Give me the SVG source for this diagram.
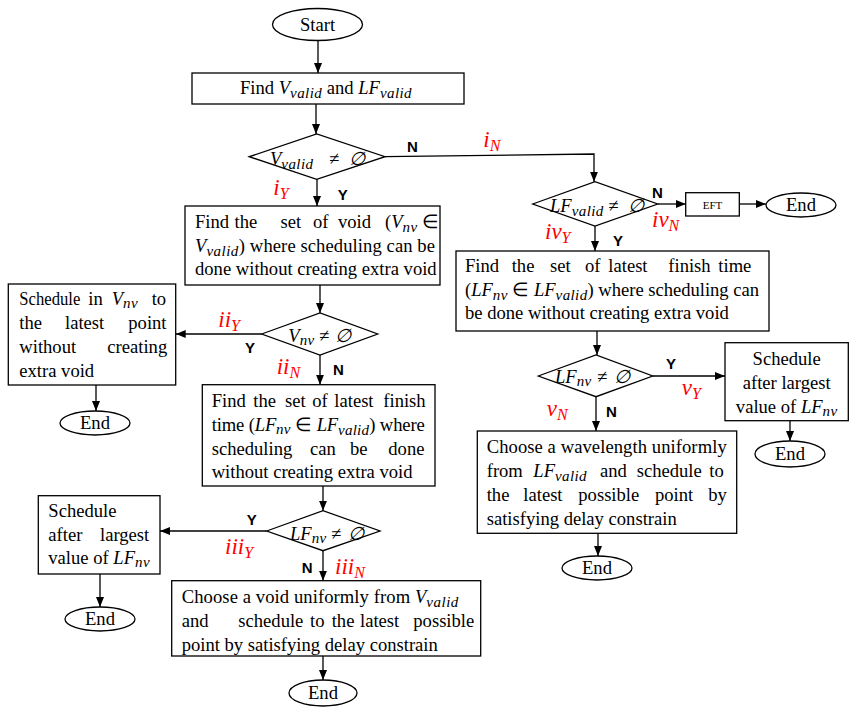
<svg xmlns="http://www.w3.org/2000/svg" width="862" height="716" viewBox="0 0 862 716">
<defs>
<marker id="ah" markerUnits="userSpaceOnUse" markerWidth="10" markerHeight="8" refX="10" refY="4" orient="auto"><path d="M0,0 L10,4 L0,8 z" fill="#000"/></marker>
<style>
.sh{fill:#fff;stroke:#000;stroke-width:1.3}
.c{fill:none;stroke:#000;stroke-width:1.3;marker-end:url(#ah)}
.t{font-family:"Liberation Serif","Times New Roman",serif;font-size:18.6px;fill:#000}
.ce{text-anchor:middle}
.m{font-style:italic}
.s{font-style:italic;font-size:15px;letter-spacing:0.4px}
.lb{font-family:"Liberation Sans",Arial,sans-serif;font-weight:bold;font-size:15px;fill:#000}
.r{font-family:"Liberation Serif","Times New Roman",serif;font-style:italic;font-size:23px;fill:#f00}
.rs{font-size:16px}
.e{font-family:"Liberation Serif","Times New Roman",serif;font-size:11px;fill:#000;text-anchor:middle}
</style>
</defs>
<rect width="862" height="716" fill="#fff"/>

<g id="connectors">
<path class="c" d="M318,40.5 V73"/>
<path class="c" d="M316,104 V134"/>
<path class="c" d="M317,179.3 V206"/>
<path class="c" d="M385,156.7 L594,154 V181.7"/>
<path class="c" d="M657.7,204 H685.7"/>
<path class="c" d="M739.3,204 H766"/>
<path class="c" d="M595,226 V251"/>
<path class="c" d="M320,285 V313"/>
<path class="c" d="M261.7,334 H175.7"/>
<path class="c" d="M96,385 V411"/>
<path class="c" d="M320,355 V384.7"/>
<path class="c" d="M323,486 V510.7"/>
<path class="c" d="M266.7,531 H160"/>
<path class="c" d="M100,574 V607"/>
<path class="c" d="M323,550.7 V580.7"/>
<path class="c" d="M323,656 V680"/>
<path class="c" d="M597,331 V355"/>
<path class="c" d="M652.7,376 H725"/>
<path class="c" d="M596,396.7 V431"/>
<path class="c" d="M790,420.7 V441"/>
<path class="c" d="M598,533.3 V556"/>
</g>

<g id="start">
<ellipse class="sh" cx="317.5" cy="24.5" rx="45" ry="16"/>
<text class="t ce" x="317.5" y="30.5">Start</text>
</g>

<g id="find-valid">
<rect class="sh" x="192" y="73" width="272" height="31"/>
<text class="t" x="240" y="94" textLength="172">Find <tspan class="m">V</tspan><tspan class="s" dy="4">valid</tspan><tspan dy="-4"> and </tspan><tspan class="m">LF</tspan><tspan class="s" dy="4">valid</tspan></text>
</g>

<g id="d-vvalid">
<polygon class="sh" points="249.3,156.7 316.7,134 385,156.7 316.7,179.3"/>
<text class="t m" x="270" y="165">V<tspan class="s" dy="4">valid</tspan><tspan dy="-4" x="329">≠</tspan><tspan x="349">∅</tspan></text>
</g>

<g id="find-void">
<rect class="sh" x="185" y="206" width="255" height="79"/>
<text class="t" y="228"><tspan x="195">Find</tspan><tspan x="234.5">the</tspan><tspan x="280.5">set</tspan><tspan x="313">of</tspan><tspan x="338">void</tspan><tspan x="385">(</tspan><tspan class="m">V</tspan><tspan class="s" dy="4">nv</tspan><tspan dy="-4"> ∈</tspan></text>
<text class="t" x="195" y="252" textLength="240"><tspan class="m">V</tspan><tspan class="s" dy="4">valid</tspan><tspan dy="-4">) where scheduling can be</tspan></text>
<text class="t" x="195" y="275">done without creating extra void</text>
</g>

<g id="d-lfvalid">
<polygon class="sh" points="532.7,204 595,181.7 657.7,204 595,226"/>
<text class="t m" x="550" y="211.7">LF<tspan class="s" dy="4">valid</tspan><tspan dy="-4" x="608.3">≠</tspan><tspan x="627.5">∅</tspan></text>
</g>

<g id="eft">
<rect class="sh" x="685.7" y="192.7" width="53.6" height="23.3"/>
<text class="e" x="712.5" y="208.5">EFT</text>
</g>

<g id="end-eft">
<ellipse class="sh" cx="801" cy="205" rx="35" ry="12"/>
<text class="t ce" x="801" y="211">End</text>
</g>

<g id="find-lf-right">
<rect class="sh" x="456" y="251" width="313" height="80"/>
<text class="t" y="271.7"><tspan x="465">Find</tspan><tspan x="511.7">the</tspan><tspan x="550">set</tspan><tspan x="585">of</tspan><tspan x="608.3">latest</tspan><tspan x="668.3">finish</tspan><tspan x="718.3">time</tspan></text>
<text class="t" x="465" y="296" textLength="294">(<tspan class="m">LF</tspan><tspan class="s" dy="4">nv</tspan><tspan dy="-4"> ∈ </tspan><tspan class="m">LF</tspan><tspan class="s" dy="4">valid</tspan><tspan dy="-4">) where scheduling can</tspan></text>
<text class="t" x="465" y="319">be done without creating extra void</text>
</g>

<g id="d-vnv">
<polygon class="sh" points="261.7,334 320,313 377.7,334 320,355"/>
<text class="t m" x="288.3" y="341.7">V<tspan class="s" dy="3">nv</tspan><tspan dy="-3" x="319">≠</tspan><tspan x="334.5">∅</tspan></text>
</g>

<g id="sched-vnv">
<rect class="sh" x="8.3" y="284" width="167.4" height="101"/>
<text class="t" y="305"><tspan x="19.3" textLength="61" lengthAdjust="spacingAndGlyphs">Schedule</tspan><tspan x="88.3">in</tspan><tspan x="111.7" class="m">V</tspan><tspan class="s" dy="3">nv</tspan><tspan dy="-3" x="151.7">to</tspan></text>
<text class="t" y="328.5"><tspan x="19.3">the</tspan><tspan x="65">latest</tspan><tspan x="128.3">point</tspan></text>
<text class="t" y="352.5"><tspan x="19.3">without</tspan><tspan x="107.3">creating</tspan></text>
<text class="t" x="19.3" y="377">extra void</text>
</g>

<g id="end-1">
<ellipse class="sh" cx="95" cy="423" rx="35" ry="12"/>
<text class="t ce" x="95" y="429">End</text>
</g>

<g id="find-lf-left">
<rect class="sh" x="202.3" y="384.7" width="232.7" height="101.3"/>
<text class="t" y="407"><tspan x="211.7">Find</tspan><tspan x="253.3">the</tspan><tspan x="285">set</tspan><tspan x="312.3">of</tspan><tspan x="334.3">latest</tspan><tspan x="383.3">finish</tspan></text>
<text class="t" x="211.7" y="430.5" textLength="213">time (<tspan class="m">LF</tspan><tspan class="s" dy="3">nv</tspan><tspan dy="-3"> ∈ </tspan><tspan class="m">LF</tspan><tspan class="s" dy="4">valid</tspan><tspan dy="-4">) where</tspan></text>
<text class="t" y="454.5"><tspan x="211.7">scheduling</tspan><tspan x="310">can</tspan><tspan x="350">be</tspan><tspan x="388.3">done</tspan></text>
<text class="t" x="211.7" y="478">without creating extra void</text>
</g>

<g id="d-lfnv-left">
<polygon class="sh" points="266.7,531 323,510.7 380,531 323,550.7"/>
<text class="t m" x="290" y="540">LF<tspan class="s" dy="3">nv</tspan><tspan dy="-3" x="331">≠</tspan><tspan x="348">∅</tspan></text>
</g>

<g id="sched-left">
<rect class="sh" x="38.3" y="495.7" width="121.7" height="78.3"/>
<text class="t" x="48.3" y="516.7">Schedule</text>
<text class="t" y="540.5"><tspan x="48.3">after</tspan><tspan x="100">largest</tspan></text>
<text class="t" x="48.3" y="564">value of <tspan class="m">LF</tspan><tspan class="s" dy="3">nv</tspan></text>
</g>

<g id="end-2">
<ellipse class="sh" cx="100" cy="619" rx="35" ry="12"/>
<text class="t ce" x="100" y="625">End</text>
</g>

<g id="choose-void">
<rect class="sh" x="171.7" y="580.7" width="309" height="75.3"/>
<text class="t" x="181.7" y="603" textLength="277">Choose a void uniformly from <tspan class="m">V</tspan><tspan class="s" dy="4">valid</tspan></text>
<text class="t" y="627"><tspan x="181.7">and</tspan><tspan x="238.3">schedule</tspan><tspan x="310">to</tspan><tspan x="331.7">the</tspan><tspan x="360">latest</tspan><tspan x="413.3">possible</tspan></text>
<text class="t" x="181.7" y="650.5">point by satisfying delay constrain</text>
</g>

<g id="end-3">
<ellipse class="sh" cx="323" cy="693" rx="34" ry="13"/>
<text class="t ce" x="323" y="699">End</text>
</g>

<g id="d-lfnv-right">
<polygon class="sh" points="538.3,376 596,355 652.7,376 596,396.7"/>
<text class="t m" x="555" y="383.3">LF<tspan class="s" dy="3">nv</tspan><tspan dy="-3" x="597">≠</tspan><tspan x="614">∅</tspan></text>
</g>

<g id="sched-right">
<rect class="sh" x="725" y="342.7" width="123.3" height="78"/>
<text class="t ce" x="786.7" y="365">Schedule</text>
<text class="t ce" x="786.7" y="389">after largest</text>
<text class="t ce" x="786.7" y="413">value of <tspan class="m">LF</tspan><tspan class="s" dy="3">nv</tspan></text>
</g>

<g id="end-4">
<ellipse class="sh" cx="790" cy="454" rx="35" ry="13"/>
<text class="t ce" x="790" y="460">End</text>
</g>

<g id="choose-wavelength">
<rect class="sh" x="477.3" y="431" width="259.4" height="102.3"/>
<text class="t" x="486.7" y="453" textLength="240">Choose a wavelength uniformly</text>
<text class="t" y="477"><tspan x="486.7">from</tspan><tspan x="533.3" class="m">LF</tspan><tspan class="s" dy="4">valid</tspan><tspan dy="-4" x="600">and</tspan><tspan x="636.7">schedule</tspan><tspan x="709.3">to</tspan></text>
<text class="t" y="501"><tspan x="486.7">the</tspan><tspan x="523.3">latest</tspan><tspan x="578.3">possible</tspan><tspan x="655">point</tspan><tspan x="708.3">by</tspan></text>
<text class="t" x="486.7" y="525">satisfying delay constrain</text>
</g>

<g id="end-5">
<ellipse class="sh" cx="597" cy="568" rx="35" ry="12"/>
<text class="t ce" x="597" y="574">End</text>
</g>

<g id="branch-labels">
<text class="lb" x="407" y="152">N</text>
<text class="lb" x="337.7" y="200">Y</text>
<text class="lb" x="652" y="198">N</text>
<text class="lb" x="613" y="246">Y</text>
<text class="lb" x="245" y="353">Y</text>
<text class="lb" x="333" y="375">N</text>
<text class="lb" x="666" y="369">Y</text>
<text class="lb" x="606" y="416.5">N</text>
<text class="lb" x="246.7" y="525">Y</text>
<text class="lb" x="301.7" y="573">N</text>
</g>

<g id="case-labels">
<text class="r" x="483.3" y="147">i<tspan class="rs" dy="4">N</tspan></text>
<text class="r" x="273.3" y="195">i<tspan class="rs" dy="4">Y</tspan></text>
<text class="r" x="652" y="227">iv<tspan class="rs" dy="4">N</tspan></text>
<text class="r" x="545" y="238.5">iv<tspan class="rs" dy="4">Y</tspan></text>
<text class="r" x="218.3" y="327">ii<tspan class="rs" dy="4">Y</tspan></text>
<text class="r" x="276.7" y="373.5">ii<tspan class="rs" dy="4">N</tspan></text>
<text class="r" x="681.7" y="395">v<tspan class="rs" dy="4">Y</tspan></text>
<text class="r" x="546.7" y="416">v<tspan class="rs" dy="4">N</tspan></text>
<text class="r" x="225" y="553.5">iii<tspan class="rs" dy="4">Y</tspan></text>
<text class="r" x="335" y="574">iii<tspan class="rs" dy="4">N</tspan></text>
</g>
</svg>
